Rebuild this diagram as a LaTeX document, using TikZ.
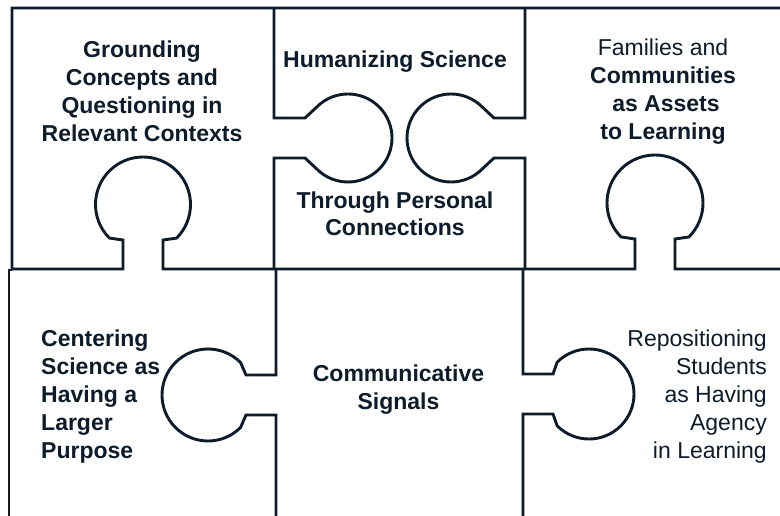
\documentclass[tikz,border=0pt]{standalone}
\usepackage{fontspec}
\setmainfont{Liberation Sans}
\definecolor{ink}{RGB}{14,27,42}
% One puzzle knob inserted into a running path:
% #1 neck centre on the edge, #2 direction the knob points,
% #3 distance from edge to the circle centre, #4 circle radius, #5 neck length
\newcommand\puzzleknob[5]{{[shift={#1},rotate=#2]
  -- (0,-20) -- (#5,-20) -- ({#3-0.7071*#4},{-0.7071*#4})
  arc[start angle=-135,end angle=135,radius=#4]
  -- (#5,20) -- (0,20)}}
\begin{document}
\begin{tikzpicture}[x=1pt,y=1pt,yscale=-1,
  edge/.style={draw=ink,line width=2.9pt},
  txt/.style={text=ink,inner sep=0pt,font=\fontsize{23}{28}\selectfont\bfseries,anchor=base,align=center},
  plain/.style={font=\fontsize{23}{28}\selectfont\mdseries}]
\fill[white] (0,0) rectangle (780,516);
\useasboundingbox (0,0) rectangle (780,516);

% outer frame of the top row and the seam between the rows
\draw[edge] (785,8) -- (12,8) -- (12,269)
  \puzzleknob{(143,269)}{-90}{64.5}{47.5}{29}
  -- (274,269) -- (525,269)
  \puzzleknob{(655,269)}{-90}{66}{48}{30}
  -- (785,269);
% seams inside the top row
\draw[edge] (274,8) \puzzleknob{(274,138)}{0}{74}{44}{31} -- (274,269);
\draw[edge] (525,269) \puzzleknob{(525,138)}{180}{74}{44}{31} -- (525,8);
% bottom row
\draw[edge] (12,270) -- (9,270) -- (9,520);
\draw[edge] (276,520) \puzzleknob{(276,395)}{180}{68}{46}{30} -- (276,269);
\draw[edge] (523,269) \puzzleknob{(523,394)}{0}{66}{45}{30} -- (523,520);

% labels (a multi-line node sits on the baseline of its last line)
\node[txt] (grounding) at (142,142) {Grounding\\Concepts and\\Questioning in\\Relevant Contexts};
\node[txt] (humanizing) at (395,68) {Humanizing Science};
\node[txt] (through) at (395,236) {Through Personal\\Connections};
\node[txt,plain] (families) at (663,140) {Families and\\\textbf{Communities}\\\textbf{\hspace*{6pt}as Assets}\\\textbf{to Learning}};
\node[txt,anchor=base west,align=left] (centering) at (41,458) {Centering\\Science as\\Having a\\Larger\\Purpose};
\node[txt] (communicative) at (398.5,409) {Communicative\\Signals};
\node[txt,plain,anchor=base east,align=right] (repositioning) at (767,458) {Repositioning\\Students\\as Having\\Agency\\in Learning};
\end{tikzpicture}
\end{document}
